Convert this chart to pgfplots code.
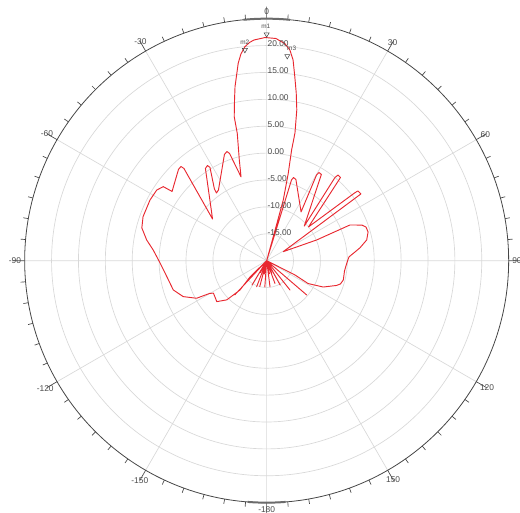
\documentclass[border=0pt]{standalone}
\usepackage{fontspec}
\setmainfont{Liberation Sans}
\usepackage{pgfplots}
\usepackage{pgfplotstable}
\pgfplotsset{compat=1.18}
\usepgfplotslibrary{polar}
\definecolor{curve}{RGB}{232,40,48}
\definecolor{gridc}{RGB}{216,216,216}
\definecolor{axisc}{RGB}{70,70,70}
\definecolor{labc}{RGB}{75,75,75}
\tikzset{
  ylab/.style={anchor=west, inner sep=0.5pt, yshift=1.2pt, text=labc, font=\fontsize{6.3}{7}\selectfont},
  mlab/.style={font=\fontsize{4.8}{5}\selectfont, text=labc, inner sep=0pt},
}

% theta (deg, clockwise from top), gain (dB)
\pgfplotstableread{
t db
-180 -20
-176 -15.1
-172 -20
-170 -17.5
-168 -20
-165 -15.0
-162 -20
-159 -14.8
-155 -20
-152 -17.5
-150 -20
-149 -14.7
-145 -20
-137 -11.3
-136 -20
-134.3 -15.7
-137.7 -12.6
-134.5 -9.6
-129.4 -8.0
-121.4 -8.4
-119.9 -7.8
-118.2 -5.2
-113.3 -3.1
-107.4 -1.8
-99.1 -1.2
-91.4 -0.2
-84.6 1.2
-80.2 2.65
-75.3 4.0
-70.4 4.4
-62.5 4.45
-57.3 4.3
-54.4 3.65
-53.8 1.8
-44.0 3.6
-42.3 3.68
-41.9 3.03
-52.4 -7.3
-33.6 0.58
-31.9 0.84
-31.3 0.29
-36.1 -3.51
-36.6 -4.33
-34.3 -4.09
-21.7 1.25
-20.0 1.6
-19.1 1.1
-17.0 -3.7
-15.2 -0.6
-13.0 4.3
-12.7 7.45
-11.3 10.5
-10.3 12.9
-8.2 17.1
-7.1 18.73
-5.8 20.0
-4.5 20.7
-3.3 21.1
-0.4 21.5
2.4 21.35
4.8 20.5
6.3 19.4
7.5 17.64
8.7 14.6
10.0 11.67
11.3 8.6
12.5 4.3
12.7 1.1
13.9 -3.3
15.3 -8.3
15.4 -13.0
16 -20
17.1 -4.3
17.9 -3.75
19.8 -3.95
35.2 -8.9
30.2 -1.57
30.7 -0.94
32.4 -1.01
47.4 -10.5
39.4 0.0
39.8 0.73
41.6 0.68
51.1 -10.0
52.4 0.62
52.6 1.36
54.7 1.48
61.5 -16.5
67.5 -9.9
66.8 -3.15
69.5 -1.1
71.3 -0.5
74.2 -0.4
78.3 -1.0
82.2 -2.5
85.1 -3.8
87.4 -4.68
91.9 -5.1
97.5 -5.4
104.1 -5.3
107.5 -5.61
109.5 -6.2
115.0 -8.4
118.9 -11.2
116.8 -14.1
120 -20
130.6 -10.2
134 -20
141.5 -13.0
146 -20
151 -14.8
155 -20
158 -17.5
160 -20
160 -15.5
166 -20
168 -17.5
170 -20
172.7 -15.1
178 -20
180 -20
}\patdata

\pgfplotstableread{
t db
0 22.1
-5.9 19.4
5.75 18.25
}\mkdata

\begin{document}
\begin{tikzpicture}
\useasboundingbox (-200pt,-189.2pt) rectangle (190pt,195.5pt);
\begin{polaraxis}[
  at={(0,0)}, anchor=center,
  scale only axis, width=363pt, height=363pt,
  xmin=0, xmax=360, ymin=0, ymax=45,
  xtick={0,30,...,330},
  xticklabels={90,60,30,0,-30,-60,-90,-120,-150,-180,150,120},
  minor x tick num=5,
  ytick={5,10,...,40},
  yticklabels={},
  ytick style={draw=none},
  xmajorgrids, ymajorgrids,
  major grid style={gridc, line width=0.5pt},
  x axis line style={axisc, line width=0.6pt},
  y axis line style={draw=none},
  xtick style={axisc, line width=0.5pt},
  tick align=inside,
  major tick length=9pt,
  minor tick length=3.75pt,
  xticklabel style={font=\fontsize{6.3}{7}\selectfont, text=labc, inner sep=2.5pt},
]
\addplot[curve, line width=0.7pt, no markers, line join=round] table[x expr={90-\thisrow{t}}, y expr={\thisrow{db}+20}] {\patdata};
\addplot[only marks, mark=triangle, mark size=2.2pt, mark options={rotate=180, draw=axisc, fill=white, line width=0.4pt}] table[x expr={90-\thisrow{t}}, y expr={\thisrow{db}+20}] {\mkdata};
\node[ylab] at (axis cs:90,5) {-15.00};
\node[ylab] at (axis cs:90,10) {-10.00};
\node[ylab] at (axis cs:90,15) {-5.00};
\node[ylab] at (axis cs:90,20) {0.00};
\node[ylab] at (axis cs:90,25) {5.00};
\node[ylab] at (axis cs:90,30) {10.00};
\node[ylab] at (axis cs:90,35) {15.00};
\node[ylab] at (axis cs:90,40) {20.00};
\node[mlab] at (axis cs:90.2,43.5) {m1};
\node[mlab] at (axis cs:95.7,40.9) {m2};
\node[mlab] at (axis cs:83.3,39.8) {m3};
\end{polaraxis}
\draw[line width=1.5pt, axisc!80] (84.5:181.5pt) arc[start angle=84.5, end angle=95.5, radius=181.5pt];
\draw[line width=1.5pt, axisc!80] (265.5:181.5pt) arc[start angle=265.5, end angle=274.5, radius=181.5pt];
\end{tikzpicture}
\end{document}
